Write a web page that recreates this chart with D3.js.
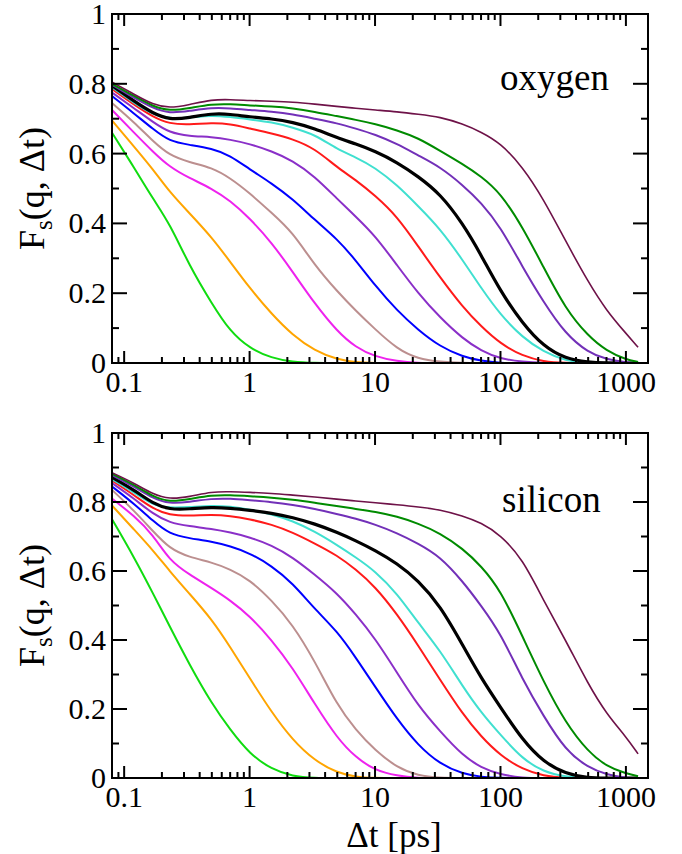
<!DOCTYPE html>
<html><head><meta charset="utf-8">
<script src="https://cdn.jsdelivr.net/npm/d3@7"></script>
<style>
body{margin:0;background:#fff}svg{display:block}
svg text, svg tspan{font-family:"Liberation Serif","DejaVu Serif","Noto Serif",serif !important;}
</style>
</head><body><svg id="c" width="682" height="854"></svg>
<script>
// ---- data ----
const times = [0.08,0.12,0.17,0.23,0.33,0.5,0.7,1,1.5,2.2,3.3,5,7,10,15,22,33,50,70,100,150,220,330,500,700,1000,1250];
const seriesNames = ["green","orange","magenta","brown","blue","violet","red","turquoise","black","indigo","green4","maroon"];
const seriesColors = ["#10dc10","#ffa500","#ee22ee","#bc8f8f","#0000ff","#8a2fc8","#ff1a1a","#40e0d0","#000000","#7230b8","#008b00","#6e1248"];
const xTickLabels = ["0.1","1","10","100","1000"];
const yTickLabels = ["0","0.2","0.4","0.6","0.8","1"];
const panelLabels = ["oxygen","silicon"];

// oxygen panel
const O_green   = [0.66,0.56,0.47,0.40,0.28,0.17,0.09,0.042,0.014,0.003,0,0,0,0,0,0,0,0,0,0,0,0,0,0,0,0,0];
const O_orange  = [0.695,0.62,0.555,0.49,0.43,0.36,0.29,0.215,0.14,0.08,0.035,0.01,0.002,0,0,0,0,0,0,0,0,0,0,0,0,0,0];
const O_magenta = [0.725,0.66,0.605,0.562,0.53,0.5,0.465,0.415,0.345,0.262,0.17,0.09,0.045,0.018,0.005,0,0,0,0,0,0,0,0,0,0,0,0];
const O_brown   = [0.745,0.69,0.635,0.595,0.575,0.56,0.53,0.487,0.43,0.375,0.28,0.205,0.15,0.097,0.04,0.012,0.003,0,0,0,0,0,0,0,0,0,0];
const O_blue    = [0.765,0.715,0.67,0.635,0.625,0.615,0.595,0.555,0.515,0.47,0.41,0.355,0.295,0.222,0.15,0.095,0.047,0.018,0.006,0,0,0,0,0,0,0,0];
const O_violet  = [0.775,0.73,0.69,0.66,0.65,0.648,0.64,0.628,0.607,0.58,0.535,0.47,0.42,0.365,0.28,0.2,0.13,0.07,0.035,0.012,0.003,0,0,0,0,0,0];
const O_red     = [0.785,0.74,0.705,0.685,0.683,0.688,0.685,0.672,0.658,0.642,0.615,0.56,0.525,0.48,0.42,0.335,0.245,0.16,0.105,0.055,0.02,0.004,0,0,0,0,0];
const O_turq    = [0.79,0.745,0.712,0.70,0.703,0.71,0.705,0.698,0.69,0.675,0.655,0.612,0.59,0.56,0.51,0.45,0.385,0.295,0.215,0.138,0.073,0.032,0.006,0,0,0,0];
const O_black   = [0.795,0.75,0.715,0.697,0.703,0.715,0.713,0.705,0.70,0.69,0.672,0.645,0.628,0.607,0.575,0.535,0.485,0.40,0.31,0.205,0.113,0.048,0.012,0.002,0,0,0];
const O_indigo  = [0.797,0.76,0.73,0.715,0.722,0.732,0.73,0.725,0.72,0.713,0.70,0.687,0.672,0.655,0.628,0.595,0.562,0.51,0.46,0.39,0.275,0.175,0.083,0.03,0.01,0.002,0];
const O_green4  = [0.80,0.765,0.735,0.722,0.73,0.742,0.742,0.738,0.735,0.73,0.72,0.707,0.697,0.685,0.667,0.645,0.608,0.57,0.535,0.487,0.39,0.275,0.155,0.077,0.035,0.01,0.003];
const O_maroon  = [0.805,0.77,0.74,0.73,0.74,0.755,0.755,0.752,0.75,0.748,0.742,0.735,0.73,0.725,0.72,0.713,0.705,0.685,0.662,0.63,0.562,0.47,0.35,0.232,0.15,0.085,0.045];

// silicon panel
const S_green   = [0.75,0.64,0.535,0.44,0.33,0.215,0.14,0.07,0.025,0.005,0,0,0,0,0,0,0,0,0,0,0,0,0,0,0,0,0];
const S_orange  = [0.79,0.72,0.66,0.60,0.535,0.46,0.38,0.29,0.19,0.11,0.05,0.015,0.003,0,0,0,0,0,0,0,0,0,0,0,0,0,0];
const S_magenta = [0.81,0.76,0.705,0.63,0.59,0.55,0.515,0.47,0.40,0.32,0.215,0.115,0.06,0.022,0.006,0,0,0,0,0,0,0,0,0,0,0,0];
const S_brown   = [0.835,0.775,0.715,0.665,0.64,0.625,0.605,0.575,0.515,0.445,0.34,0.21,0.14,0.08,0.03,0.007,0,0,0,0,0,0,0,0,0,0,0];
const S_blue    = [0.845,0.795,0.745,0.707,0.695,0.685,0.672,0.652,0.615,0.565,0.49,0.425,0.35,0.265,0.17,0.095,0.04,0.012,0.003,0,0,0,0,0,0,0,0];
const S_violet  = [0.855,0.81,0.765,0.74,0.73,0.722,0.712,0.698,0.675,0.64,0.59,0.535,0.475,0.405,0.305,0.21,0.135,0.065,0.03,0.01,0,0,0,0,0,0,0];
const S_red     = [0.862,0.82,0.78,0.762,0.76,0.763,0.76,0.75,0.735,0.712,0.68,0.645,0.605,0.555,0.475,0.385,0.285,0.185,0.12,0.065,0.025,0.006,0,0,0,0,0];
const S_turq    = [0.866,0.828,0.79,0.783,0.785,0.79,0.787,0.778,0.765,0.745,0.715,0.675,0.64,0.60,0.535,0.45,0.37,0.265,0.19,0.125,0.055,0.018,0.003,0,0,0,0];
const S_black   = [0.872,0.835,0.795,0.778,0.78,0.785,0.782,0.776,0.768,0.755,0.737,0.712,0.688,0.66,0.622,0.573,0.50,0.385,0.29,0.205,0.11,0.047,0.012,0,0,0,0];
const S_indigo  = [0.878,0.845,0.81,0.795,0.80,0.81,0.81,0.805,0.80,0.792,0.78,0.765,0.752,0.735,0.71,0.68,0.642,0.57,0.50,0.42,0.285,0.18,0.08,0.03,0.01,0,0];
const S_green4  = [0.882,0.85,0.815,0.80,0.808,0.82,0.82,0.817,0.813,0.807,0.798,0.788,0.78,0.772,0.758,0.738,0.71,0.665,0.615,0.545,0.41,0.28,0.16,0.076,0.034,0.013,0.005];
const S_maroon  = [0.885,0.855,0.822,0.808,0.815,0.83,0.83,0.828,0.825,0.82,0.815,0.808,0.803,0.798,0.792,0.786,0.778,0.76,0.74,0.705,0.635,0.515,0.40,0.272,0.186,0.12,0.07];

const oxygenSeries  = [O_green,O_orange,O_magenta,O_brown,O_blue,O_violet,O_red,O_turq,O_black,O_indigo,O_green4,O_maroon];
const siliconSeries = [S_green,S_orange,S_magenta,S_brown,S_blue,S_violet,S_red,S_turq,S_black,S_indigo,S_green4,S_maroon];

// ---- drawing ----
const FONT = "Liberation Serif, DejaVu Serif, serif";
const svg = d3.select("#c");
const L = 112, R = 648;
const panels = [
  {top:14, bottom:363, data:oxygenSeries, label:panelLabels[0], lx:500, ly:90},
  {top:433, bottom:778, data:siliconSeries, label:panelLabels[1], lx:502, ly:512}
];
const x = d3.scaleLog().domain([0.08,1500]).range([L,R]);
const majorX = [0.1,1,10,100,1000];
const minorX = [];
[0.01,0.1,1,10,100,1000].forEach(b=>{for(let k=2;k<=9;k++){const v=b*k; if(v>0.08&&v<1500&&!majorX.some(m=>Math.abs(m-v)<1e-9)) minorX.push(v);}});

function txt(sel){ return sel.style("font-family", FONT); }

panels.forEach((p,pi)=>{
  const y = d3.scaleLinear().domain([0,1]).range([p.bottom,p.top]);
  const g = svg.append("g");
  const clipId = "clip"+pi;
  svg.append("clipPath").attr("id",clipId).append("rect").attr("x",L).attr("y",p.top).attr("width",R-L).attr("height",p.bottom-p.top);
  const line = d3.line().x(d=>x(d[0])).y(d=>y(d[1])).curve(d3.curveBasis);
  const cg = g.append("g").attr("clip-path",`url(#${clipId})`);
  p.data.forEach((arr,i)=>{
    const pts = times.map((t,j)=>[t,arr[j]]);
    cg.append("path").attr("d",line(pts)).attr("fill","none")
      .attr("stroke",seriesColors[i])
      .attr("stroke-width", seriesNames[i]==="black"?3.2:(seriesNames[i]==="maroon"?1.6:2))
      .attr("stroke-linejoin","round");
  });
  g.append("rect").attr("x",L).attr("y",p.top).attr("width",R-L).attr("height",p.bottom-p.top)
    .attr("fill","none").attr("stroke","#000").attr("stroke-width",2);
  const tk = g.append("g").attr("stroke","#000").attr("stroke-width",2);
  majorX.forEach(v=>{
    tk.append("line").attr("x1",x(v)).attr("x2",x(v)).attr("y1",p.bottom).attr("y2",p.bottom-12);
    tk.append("line").attr("x1",x(v)).attr("x2",x(v)).attr("y1",p.top).attr("y2",p.top+12);
  });
  minorX.forEach(v=>{
    tk.append("line").attr("x1",x(v)).attr("x2",x(v)).attr("y1",p.bottom).attr("y2",p.bottom-6);
    tk.append("line").attr("x1",x(v)).attr("x2",x(v)).attr("y1",p.top).attr("y2",p.top+6);
  });
  d3.range(1,10).forEach(k=>{
    const v=k/10, major=k%2===0, len=major?15:7;
    tk.append("line").attr("x1",L).attr("x2",L+len).attr("y1",y(v)).attr("y2",y(v));
    tk.append("line").attr("x1",R).attr("x2",R-len).attr("y1",y(v)).attr("y2",y(v));
  });
  yTickLabels.forEach((s,k)=>{
    txt(g.append("text")).attr("x",106).attr("y",y(k*0.2)).attr("dy","0.33em").attr("text-anchor","end")
      .attr("font-size",30).text(s);
  });
  xTickLabels.forEach((s,k)=>{
    txt(g.append("text")).attr("x",x(majorX[k])).attr("y",p.bottom+29).attr("text-anchor","middle")
      .attr("font-size",30).text(s);
  });
  txt(g.append("text")).attr("x",p.lx).attr("y",p.ly).attr("font-size",37).text(p.label);
  const yl = txt(g.append("text")).attr("transform",`translate(44,${(p.top+p.bottom)/2}) rotate(-90)`)
    .attr("text-anchor","middle").attr("font-size",36);
  yl.append("tspan").text("F");
  yl.append("tspan").attr("font-size",25).attr("dy",8).text("s");
  yl.append("tspan").attr("dy",-8).text("(q, \u0394t)");
});
txt(svg.append("text")).attr("x",394).attr("y",847).attr("text-anchor","middle")
  .attr("font-size",35).text("\u0394t [ps]");
</script></body></html>
